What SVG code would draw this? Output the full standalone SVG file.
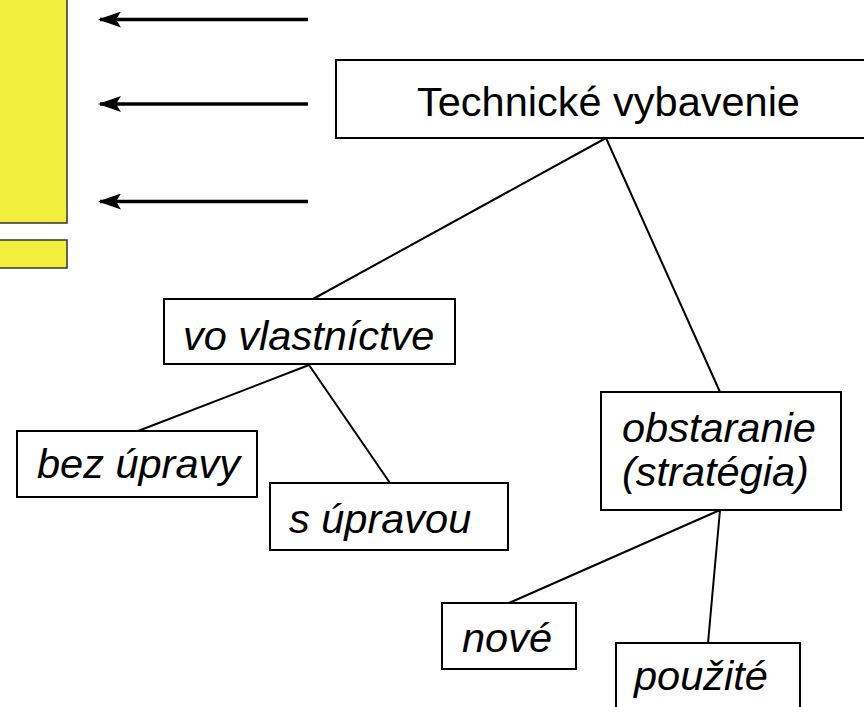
<svg xmlns="http://www.w3.org/2000/svg" width="864" height="707" viewBox="0 0 864 707">
  <style>
    .box { fill: #ffffff; stroke: #000000; stroke-width: 2; }
    .bar { fill: #F1EF3B; stroke: #333333; stroke-width: 1.5; }
    .lbl { font-family: "Liberation Sans", Arial, sans-serif; font-size: 41.5px; fill: #000000; }
    .it { font-style: italic; }
    .edge { stroke: #000000; stroke-width: 2; fill: none; }
    .arrow { stroke: #000000; stroke-width: 3.5; fill: none; }
  </style>
  <defs>
    <marker id="head" markerUnits="userSpaceOnUse" markerWidth="26" markerHeight="16" refX="24" refY="8" orient="auto" viewBox="0 0 26 16">
      <path d="M26,8 L3,0 L8,8 L3,16 Z" fill="#000000"/>
    </marker>
  </defs>

  <!-- yellow bars at the left edge -->
  <g id="bars">
    <rect class="bar" x="-5" y="-5" width="72" height="228"/>
    <rect class="bar" x="-5" y="240" width="72" height="28"/>
  </g>

  <!-- connectors -->
  <g id="connectors">
    <line class="arrow" x1="308" y1="19.5" x2="100" y2="19.5" marker-end="url(#head)"/>
    <line class="arrow" x1="308" y1="104" x2="100" y2="104" marker-end="url(#head)"/>
    <line class="arrow" x1="308" y1="201.5" x2="100" y2="201.5" marker-end="url(#head)"/>
    <line class="edge" x1="606" y1="138" x2="313" y2="299"/>
    <line class="edge" x1="606" y1="138" x2="720" y2="392"/>
    <line class="edge" x1="309" y1="365" x2="138" y2="431"/>
    <line class="edge" x1="309" y1="365" x2="390" y2="483"/>
    <line class="edge" x1="720" y1="510" x2="509" y2="603"/>
    <line class="edge" x1="720" y1="510" x2="708" y2="643"/>
  </g>

  <g id="technicke">
    <rect class="box" x="336" y="60" width="540" height="78"/>
    <text class="lbl" x="417" y="116">Technické vybavenie</text>
  </g>

  <g id="vlastnictvo">
    <rect class="box" x="164" y="299" width="291" height="65"/>
    <text class="lbl it" x="183" y="350">vo vlastníctve</text>
  </g>

  <g id="bez-upravy">
    <rect class="box" x="17" y="431" width="240" height="66"/>
    <text class="lbl it" x="37" y="478">bez úpravy</text>
  </g>

  <g id="s-upravou">
    <rect class="box" x="270" y="483" width="238" height="67"/>
    <text class="lbl it" x="289" y="533">s úpravou</text>
  </g>

  <g id="obstaranie">
    <rect class="box" x="601" y="392" width="240" height="118"/>
    <text class="lbl it" x="622" y="442">obstaranie</text>
    <text class="lbl it" x="622" y="486">(stratégia)</text>
  </g>

  <g id="nove">
    <rect class="box" x="442" y="603" width="134" height="66"/>
    <text class="lbl it" x="462" y="652">nové</text>
  </g>

  <g id="pouzite">
    <rect class="box" x="616" y="643" width="184" height="80"/>
    <text class="lbl it" x="634" y="690">použité</text>
  </g>
</svg>
